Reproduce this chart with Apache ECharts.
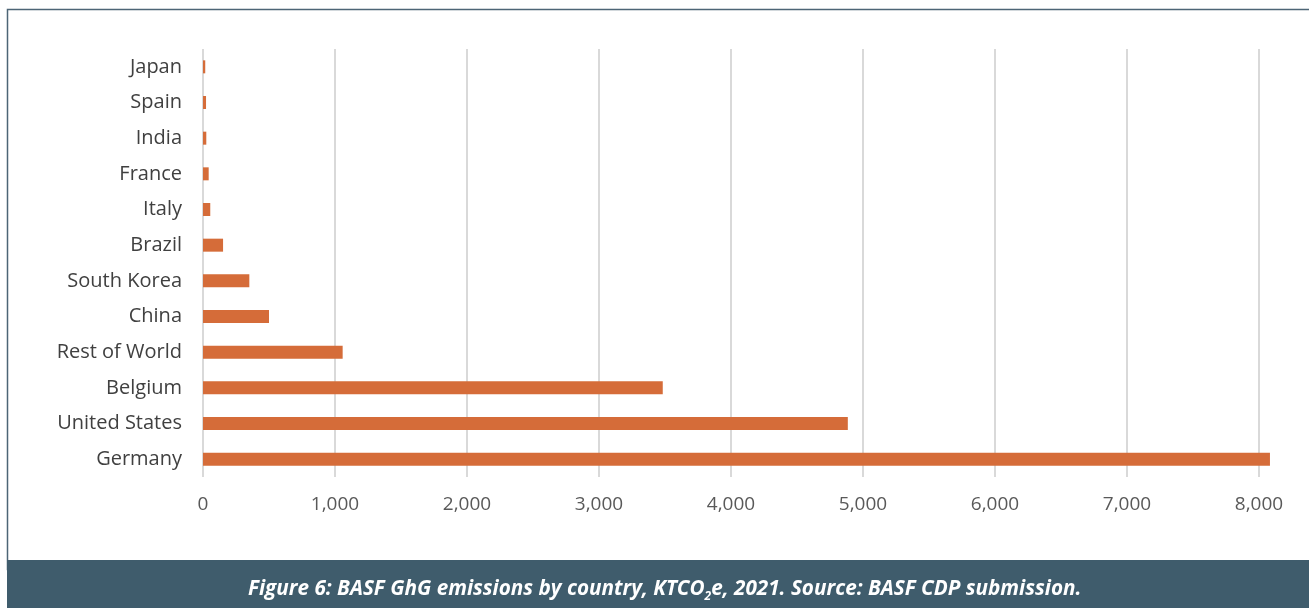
<!DOCTYPE html>
<html>
<head>
<meta charset="utf-8">
<script src="https://cdn.jsdelivr.net/npm/echarts@6/dist/echarts.min.js"></script>
<style>
  html, body { margin: 0; padding: 0; background: #ffffff; }
  #chart { width: 1309px; height: 608px; }
</style>
</head>
<body>
<div id="chart"></div>
<script>
// 国家（从下到上）
const countries = ["Germany", "United States", "Belgium", "Rest of World", "China",
  "South Korea", "Brazil", "Italy", "France", "India", "Spain", "Japan"];
// 排放量 KTCO2e
const emissions = [8083, 4885, 3483, 1058, 500, 351, 152, 55, 43, 25, 23, 17];
const xTicks = [0, 1000, 2000, 3000, 4000, 5000, 6000, 7000, 8000];

const chart = echarts.init(document.getElementById("chart"));
const option = {
  animation: false,
  title: {
    left: 243,
    top: 571,
    text: "{a|Figure 6: BASF GhG emissions by country, KTCO}{s|2}{a|e, 2021. Source: BASF CDP submission.}",
    textStyle: {
      rich: {
        a: { color: "#ffffff", fontFamily: "Open Sans", fontStyle: "italic", fontWeight: "bold", fontSize: 20.7 },
        s: { color: "#ffffff", fontFamily: "Open Sans", fontStyle: "italic", fontWeight: "bold", fontSize: 12, padding: [15, 0, 0, 0] }
      }
    }
  },
  graphic: [
    {
      type: "rect",
      shape: { x: 7.5, y: 9.5, width: 1320, height: 560 },
      style: { fill: "none", stroke: "#4d6576", lineWidth: 1.5 },
      z: 0
    },
    {
      type: "rect",
      shape: { x: 7, y: 560, width: 1302, height: 48 },
      style: { fill: "#3f5c6c" },
      z: 0
    }
  ],
  grid: { left: 203, right: 50, top: 49, bottom: 131 },
  xAxis: {
    type: "value",
    min: xTicks[0],
    max: xTicks[xTicks.length - 1],
    interval: 1000,
    axisLine: { show: false },
    axisTick: { show: false },
    axisLabel: {
      margin: 18,
      color: "#595959",
      fontFamily: "Open Sans",
      fontSize: 19,
      formatter: (v) => v.toLocaleString("en-US")
    },
    splitLine: { show: true, lineStyle: { color: "#d9d9d9", width: 2 } }
  },
  yAxis: {
    type: "category",
    data: countries,
    axisLine: { show: false },
    axisTick: { show: false },
    axisLabel: {
      margin: 21,
      color: "#404040",
      fontFamily: "Open Sans",
      fontSize: 20
    }
  },
  series: [
    {
      type: "bar",
      data: emissions,
      barWidth: 13,
      clip: false,
      itemStyle: { color: "#d56c39" }
    }
  ]
};
chart.setOption(option);
</script>
</body>
</html>
